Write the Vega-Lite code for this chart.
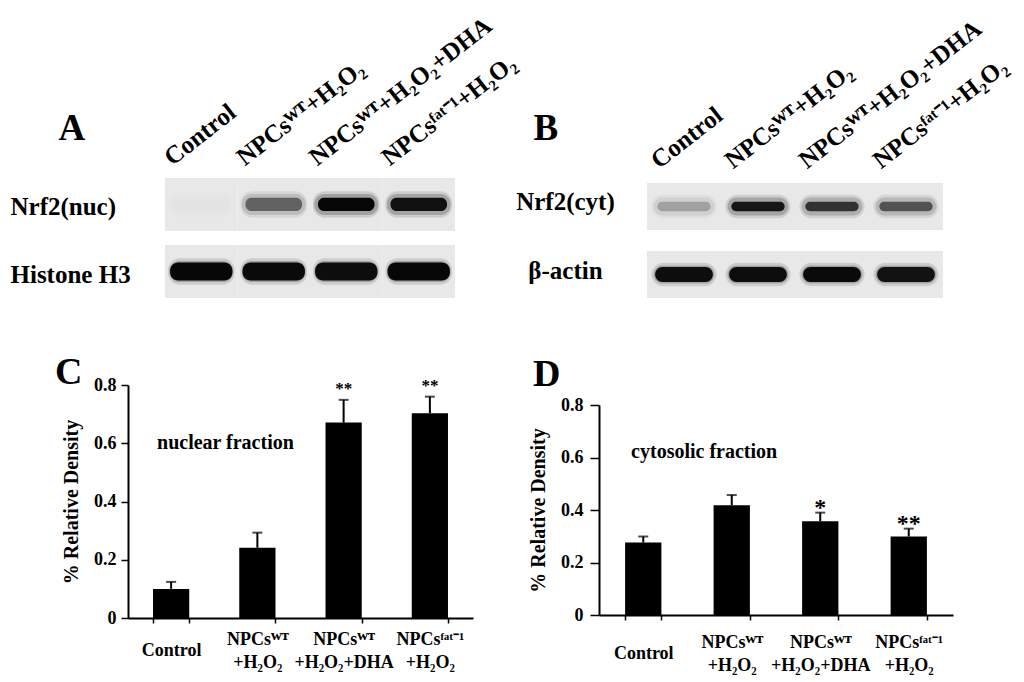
{
  "$schema": "https://vega.github.io/schema/vega-lite/v6.json",
  "background": "white",
  "padding": {"left": 10, "top": 12, "right": 2, "bottom": 2},
  "config": {
    "view": {"stroke": null},
    "font": "Liberation Serif, Times New Roman, serif",
    "axis": {"labelFont": "Liberation Serif, Times New Roman, serif", "titleFont": "Liberation Serif, Times New Roman, serif", "labelFontWeight": "bold", "titleFontWeight": "bold", "labelColor": "black", "titleColor": "black", "domainColor": "black", "tickColor": "black", "grid": false, "labelLimit": 0, "labelOverlap": false},
    "title": {"font": "Liberation Serif, Times New Roman, serif", "fontWeight": "bold", "color": "black"},
    "text": {"font": "Liberation Serif, Times New Roman, serif", "fontWeight": "bold", "color": "black"}
  },
  "datasets": {
    "blots": [
      {"panel": "A", "protein": "Nrf2(nuc)", "kind": "target", "lane": "Control", "intensity": 0.02},
      {"panel": "A", "protein": "Nrf2(nuc)", "kind": "target", "lane": "NPCsᵂᵀ+H₂O₂", "intensity": 0.55},
      {"panel": "A", "protein": "Nrf2(nuc)", "kind": "target", "lane": "NPCsᵂᵀ+H₂O₂+DHA", "intensity": 0.98},
      {"panel": "A", "protein": "Nrf2(nuc)", "kind": "target", "lane": "NPCsᶠᵃᵗ⁻¹+H₂O₂", "intensity": 0.95},
      {"panel": "A", "protein": "Histone H3", "kind": "loading", "lane": "Control", "intensity": 0.98},
      {"panel": "A", "protein": "Histone H3", "kind": "loading", "lane": "NPCsᵂᵀ+H₂O₂", "intensity": 0.97},
      {"panel": "A", "protein": "Histone H3", "kind": "loading", "lane": "NPCsᵂᵀ+H₂O₂+DHA", "intensity": 0.96},
      {"panel": "A", "protein": "Histone H3", "kind": "loading", "lane": "NPCsᶠᵃᵗ⁻¹+H₂O₂", "intensity": 0.98},
      {"panel": "B", "protein": "Nrf2(cyt)", "kind": "target", "lane": "Control", "intensity": 0.28},
      {"panel": "B", "protein": "Nrf2(cyt)", "kind": "target", "lane": "NPCsᵂᵀ+H₂O₂", "intensity": 0.92},
      {"panel": "B", "protein": "Nrf2(cyt)", "kind": "target", "lane": "NPCsᵂᵀ+H₂O₂+DHA", "intensity": 0.78},
      {"panel": "B", "protein": "Nrf2(cyt)", "kind": "target", "lane": "NPCsᶠᵃᵗ⁻¹+H₂O₂", "intensity": 0.62},
      {"panel": "B", "protein": "β-actin", "kind": "loading", "lane": "Control", "intensity": 0.96},
      {"panel": "B", "protein": "β-actin", "kind": "loading", "lane": "NPCsᵂᵀ+H₂O₂", "intensity": 0.96},
      {"panel": "B", "protein": "β-actin", "kind": "loading", "lane": "NPCsᵂᵀ+H₂O₂+DHA", "intensity": 0.97},
      {"panel": "B", "protein": "β-actin", "kind": "loading", "lane": "NPCsᶠᵃᵗ⁻¹+H₂O₂", "intensity": 0.94}
    ],
    "bars": [
      {"panel": "C", "group": "Control", "value": 0.10, "upper": 0.124, "star": "", "note": "nuclear fraction"},
      {"panel": "C", "group": "NPCsᵂᵀ|+H₂O₂", "value": 0.241, "upper": 0.293, "star": "", "note": ""},
      {"panel": "C", "group": "NPCsᵂᵀ|+H₂O₂+DHA", "value": 0.671, "upper": 0.749, "star": "**", "note": ""},
      {"panel": "C", "group": "NPCsᶠᵃᵗ⁻¹|+H₂O₂", "value": 0.703, "upper": 0.760, "star": "**", "note": ""},
      {"panel": "D", "group": "Control", "value": 0.276, "upper": 0.299, "star": "", "note": "cytosolic fraction"},
      {"panel": "D", "group": "NPCsᵂᵀ|+H₂O₂", "value": 0.418, "upper": 0.457, "star": "", "note": ""},
      {"panel": "D", "group": "NPCsᵂᵀ|+H₂O₂+DHA", "value": 0.357, "upper": 0.390, "star": "*", "note": ""},
      {"panel": "D", "group": "NPCsᶠᵃᵗ⁻¹|+H₂O₂", "value": 0.299, "upper": 0.329, "star": "**", "note": ""}
    ]
  },
  "columns": 2,
  "bounds": "flush",
  "align": "each",
  "spacing": {"row": 87, "column": 126},
  "concat": [
    {
      "width": 327,
      "height": 120,
      "data": {"name": "blots"},
      "transform": [{"filter": "datum.panel == 'A'"}],
      "encoding": {
        "x": {"field": "lane", "type": "nominal", "sort": null,
          "scale": {"range": [37, 327], "paddingInner": 0, "paddingOuter": 0},
          "axis": {"orient": "top", "title": null, "domain": false, "ticks": false, "tickSize": 0, "labelAngle": -38, "labelAlign": "left", "labelBaseline": "alphabetic", "labelPadding": 12, "labelOffset": -29, "labelFontSize": 25}},
        "y": {"field": "protein", "type": "nominal", "sort": null,
          "scale": {"paddingInner": 0.21, "paddingOuter": 0},
          "axis": {"title": "A", "titleAngle": 0, "titleX": -70, "titleY": -39, "titleAlign": "left", "titleBaseline": "alphabetic", "titleFontSize": 37, "domain": false, "ticks": false, "tickSize": 0, "labelAlign": "left", "labelPadding": 118, "labelOffset": 3, "labelFontSize": 25}}
      },
      "layer": [
        {"mark": {"type": "rect", "color": "#e8e8e8"}},
        {"mark": {"type": "rect", "width": {"band": 0.92}, "height": {"band": 0.5}, "cornerRadius": 12, "opacity": 0.12},
          "encoding": {"color": {"field": "intensity", "type": "quantitative", "scale": {"domain": [0, 1], "range": ["#e8e8e8", "#000000"]}, "legend": null}}},
        {"mark": {"type": "rect", "width": {"band": 0.88}, "height": {"band": 0.4}, "cornerRadius": 10, "opacity": 0.22},
          "encoding": {"color": {"field": "intensity", "type": "quantitative", "scale": {"domain": [0, 1], "range": ["#e8e8e8", "#000000"]}, "legend": null}}},
        {"transform": [{"filter": "datum.kind == 'target'"}],
          "mark": {"type": "rect", "width": {"band": 0.78}, "height": {"band": 0.25}, "cornerRadius": 6},
          "encoding": {"color": {"field": "intensity", "type": "quantitative", "scale": {"domain": [0, 1], "range": ["#e8e8e8", "#000000"]}, "legend": null}}},
        {"transform": [{"filter": "datum.kind == 'loading'"}],
          "mark": {"type": "rect", "width": {"band": 0.86}, "height": {"band": 0.34}, "cornerRadius": 8},
          "encoding": {"color": {"field": "intensity", "type": "quantitative", "scale": {"domain": [0, 1], "range": ["#e8e8e8", "#000000"]}, "legend": null}}}
      ]
    },
    {
      "width": 344,
      "height": 120,
      "data": {"name": "blots"},
      "transform": [{"filter": "datum.panel == 'B'"}],
      "encoding": {
        "x": {"field": "lane", "type": "nominal", "sort": null,
          "scale": {"range": [48, 344], "paddingInner": 0, "paddingOuter": 0},
          "axis": {"orient": "top", "title": null, "domain": false, "ticks": false, "tickSize": 0, "labelAngle": -38, "labelAlign": "left", "labelBaseline": "alphabetic", "labelPadding": 9, "labelOffset": -25, "labelFontSize": 25}},
        "y": {"field": "protein", "type": "nominal", "sort": null,
          "scale": {"range": [5, 120], "paddingInner": 0.31, "paddingOuter": 0},
          "axis": {"title": "B", "titleAngle": 0, "titleX": -66, "titleY": -39, "titleAlign": "left", "titleBaseline": "alphabetic", "titleFontSize": 37, "domain": false, "ticks": false, "tickSize": 0, "labelAlign": "center", "labelPadding": 34, "labelOffset": -4, "labelFontSize": 25}}
      },
      "layer": [
        {"mark": {"type": "rect", "color": "#e8e8e8"}},
        {"mark": {"type": "rect", "width": {"band": 0.88}, "height": {"band": 0.5}, "cornerRadius": 12, "opacity": 0.12},
          "encoding": {"color": {"field": "intensity", "type": "quantitative", "scale": {"domain": [0, 1], "range": ["#e8e8e8", "#000000"]}, "legend": null}}},
        {"mark": {"type": "rect", "width": {"band": 0.82}, "height": {"band": 0.38}, "cornerRadius": 10, "opacity": 0.22},
          "encoding": {"color": {"field": "intensity", "type": "quantitative", "scale": {"domain": [0, 1], "range": ["#e8e8e8", "#000000"]}, "legend": null}}},
        {"transform": [{"filter": "datum.kind == 'target'"}],
          "mark": {"type": "rect", "width": {"band": 0.72}, "height": {"band": 0.2}, "cornerRadius": 5},
          "encoding": {"color": {"field": "intensity", "type": "quantitative", "scale": {"domain": [0, 1], "range": ["#e8e8e8", "#000000"]}, "legend": null}}},
        {"transform": [{"filter": "datum.kind == 'loading'"}],
          "mark": {"type": "rect", "width": {"band": 0.78}, "height": {"band": 0.32}, "cornerRadius": 8},
          "encoding": {"color": {"field": "intensity", "type": "quantitative", "scale": {"domain": [0, 1], "range": ["#e8e8e8", "#000000"]}, "legend": null}}}
      ]
    },
    {
      "width": 345,
      "height": 233,
      "data": {"name": "bars"},
      "transform": [{"filter": "datum.panel == 'C'"}],
      "title": {"text": "C", "anchor": "start", "frame": "group", "orient": "top", "dx": -73, "dy": 46, "offset": 0, "fontSize": 38, "baseline": "alphabetic"},
      "encoding": {
        "x": {"field": "group", "type": "nominal", "sort": null,
          "scale": {"paddingInner": 0.58, "paddingOuter": 0.29},
          "axis": {"title": null, "labelAngle": 0, "labelExpr": "split(datum.label, '|')",
            "labelBaseline": {"condition": {"test": "datum.value == 'Control'", "value": "middle"}, "value": "line-bottom"},
            "labelLineHeight": 23, "labelPadding": 27, "tickBand": "extent", "tickSize": 5, "tickWidth": 1.5, "domainWidth": 2, "labelFontSize": 18}}
      },
      "layer": [
        {"mark": {"type": "bar", "color": "black"},
          "encoding": {"y": {"field": "value", "type": "quantitative", "scale": {"domain": [0, 0.8], "nice": false, "zero": true},
            "axis": {"title": "% Relative Density", "values": [0, 0.2, 0.4, 0.6, 0.8], "format": "~g", "tickSize": 7, "tickWidth": 1.5, "domainWidth": 2, "labelPadding": 5, "labelFontSize": 18, "titleFontSize": 20, "titlePadding": 12}}}},
        {"mark": {"type": "rule", "color": "black", "strokeWidth": 2},
          "encoding": {"y": {"field": "value", "type": "quantitative"}, "y2": {"field": "upper"}}},
        {"mark": {"type": "tick", "color": "black", "thickness": 2, "size": 10},
          "encoding": {"y": {"field": "upper", "type": "quantitative"}}},
        {"mark": {"type": "text", "fontSize": 17, "baseline": "alphabetic", "dy": -6},
          "encoding": {"y": {"field": "upper", "type": "quantitative"}, "text": {"field": "star"}}},
        {"transform": [{"filter": "datum.note != ''"}],
          "mark": {"type": "text", "fontSize": 20, "align": "left", "baseline": "middle", "dx": 4},
          "encoding": {"x": {"field": "group", "type": "nominal", "bandPosition": 0}, "y": {"datum": 0.6, "type": "quantitative"}, "text": {"field": "note"}}}
      ]
    },
    {
      "width": 354,
      "height": 230,
      "data": {"name": "bars"},
      "transform": [{"filter": "datum.panel == 'D'"}],
      "title": {"text": "D", "anchor": "start", "frame": "group", "orient": "top", "dx": -66, "dy": 39, "offset": 0, "fontSize": 38, "baseline": "alphabetic"},
      "encoding": {
        "x": {"field": "group", "type": "nominal", "sort": null,
          "scale": {"paddingInner": 0.59, "paddingOuter": 0.295},
          "axis": {"title": null, "labelAngle": 0, "labelExpr": "split(datum.label, '|')",
            "labelBaseline": {"condition": {"test": "datum.value == 'Control'", "value": "middle"}, "value": "line-bottom"},
            "labelLineHeight": 23, "labelPadding": 33, "tickBand": "extent", "tickSize": 5, "tickWidth": 1.5, "domainWidth": 2, "labelFontSize": 18}}
      },
      "layer": [
        {"mark": {"type": "bar", "color": "black"},
          "encoding": {"y": {"field": "value", "type": "quantitative", "scale": {"domain": [0, 0.8], "nice": false, "zero": true, "range": [230, 20]},
            "axis": {"title": "% Relative Density", "values": [0, 0.2, 0.4, 0.6, 0.8], "format": "~g", "tickSize": 9, "tickWidth": 1.5, "domainWidth": 2, "labelPadding": 7, "labelFontSize": 18, "titleFontSize": 20, "titlePadding": 12}}}},
        {"mark": {"type": "rule", "color": "black", "strokeWidth": 2},
          "encoding": {"y": {"field": "value", "type": "quantitative"}, "y2": {"field": "upper"}}},
        {"mark": {"type": "tick", "color": "black", "thickness": 2, "size": 10},
          "encoding": {"y": {"field": "upper", "type": "quantitative"}}},
        {"mark": {"type": "text", "fontSize": 24, "baseline": "alphabetic", "dy": 2},
          "encoding": {"y": {"field": "upper", "type": "quantitative"}, "text": {"field": "star"}}},
        {"transform": [{"filter": "datum.note != ''"}],
          "mark": {"type": "text", "fontSize": 20, "align": "left", "baseline": "middle", "dx": 6},
          "encoding": {"x": {"field": "group", "type": "nominal", "bandPosition": 0}, "y": {"datum": 0.62, "type": "quantitative"}, "text": {"field": "note"}}}
      ]
    }
  ]
}
